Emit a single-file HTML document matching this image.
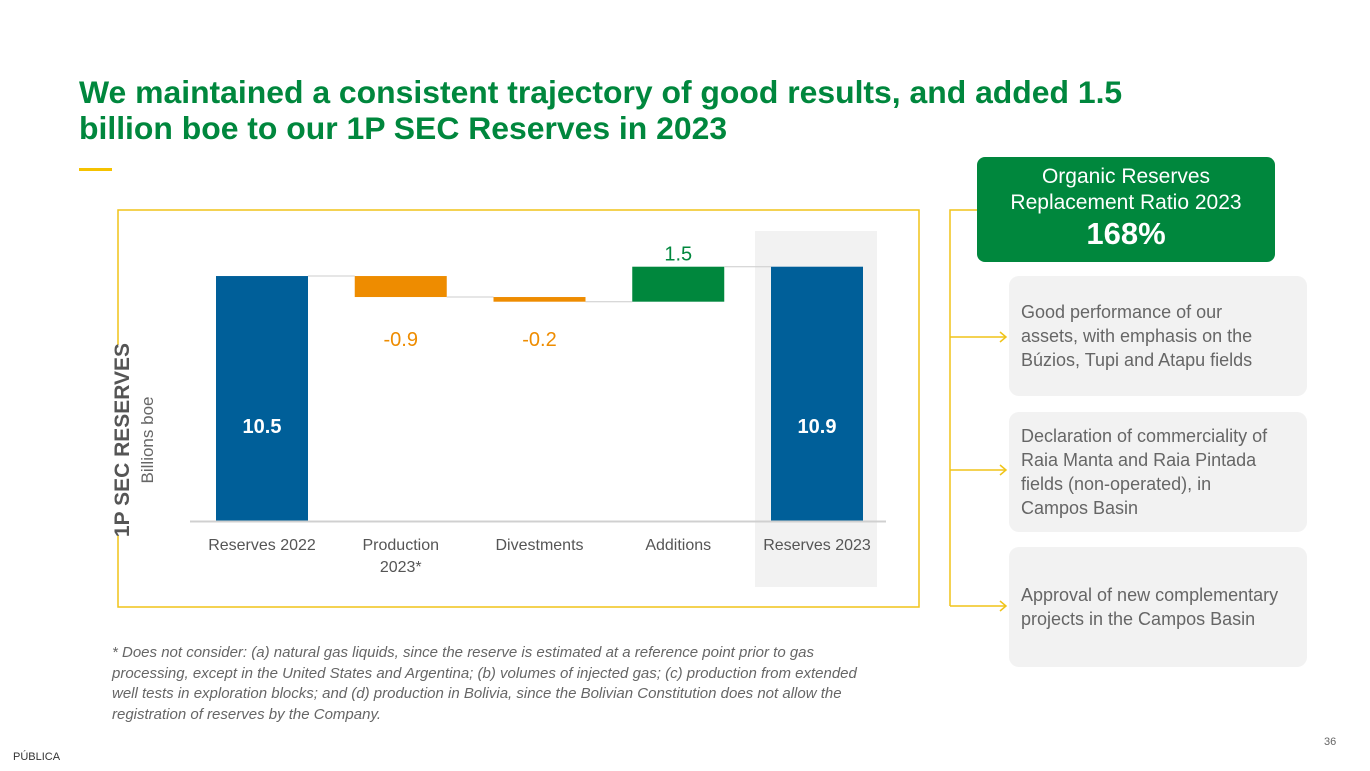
<!DOCTYPE html>
<html><head><meta charset="utf-8"><style>
body{margin:0;width:1370px;height:771px;background:#fff;font-family:"Liberation Sans",sans-serif;position:relative;overflow:hidden}
.abs{position:absolute}
.title{left:79px;top:74px;font-size:31.9px;font-weight:bold;color:#00873d;line-height:36px;letter-spacing:0}
.gbox{left:977px;top:157px;width:298px;height:105px;background:#00873d;border-radius:8px;color:#fff;text-align:center}
.card{left:1009px;width:298px;height:120px;background:#f2f2f2;border-radius:10px;color:#666;font-size:18px;line-height:24px;box-sizing:border-box;padding:0 6px 0 12px;display:flex;align-items:center;white-space:nowrap}
.foot{left:112px;top:643px;font-size:15px;font-style:italic;color:#666;line-height:20.5px;white-space:nowrap}
</style></head><body>
<div class="abs title">We maintained a consistent trajectory of good results, and added 1.5<br>billion boe to our 1P SEC Reserves in 2023</div>
<div class="abs" style="left:79px;top:168px;width:33px;height:3px;background:#f5c200"></div>

<svg class="abs" style="left:0;top:0" width="1370" height="771">
<g id="frame" fill="none" stroke="#f0c419" stroke-width="1.5">
<polyline points="118,345 118,210 919,210 919,607 118,607 118,535"/>
</g>
<rect x="755" y="231" width="122" height="356" fill="#f2f2f2"/>
<g id="bars"></g>
<line x1="190" y1="521.5" x2="886" y2="521.5" stroke="#d0d0d0" stroke-width="2"/>
<g id="labels"></g>
<text transform="translate(129,440) rotate(-90)" text-anchor="middle" font-size="21" font-weight="bold" fill="#555">1P SEC RESERVES</text>
<text transform="translate(153,440) rotate(-90)" text-anchor="middle" font-size="17" fill="#666">Billions boe</text>
<g fill="none" stroke="#f0c419" stroke-width="1.5">
<polyline points="977,210 950,210 950,606"/>
<line x1="950" y1="337" x2="1006" y2="337"/><polyline points="1000,332 1006,337 1000,342"/>
<line x1="950" y1="470" x2="1006" y2="470"/><polyline points="1000,465 1006,470 1000,475"/>
<line x1="950" y1="606" x2="1006" y2="606"/><polyline points="1000,601 1006,606 1000,611"/>
</g>
</svg>

<div class="abs gbox">
<div style="font-size:21px;line-height:26px;margin-top:7px">Organic Reserves<br>Replacement Ratio 2023</div>
<div style="font-size:31px;font-weight:bold;line-height:36px">168%</div></div>
<div class="abs card" style="top:276px">Good performance of our<br>assets, with emphasis on the<br>Búzios, Tupi and Atapu fields</div>
<div class="abs card" style="top:412px">Declaration of commerciality of<br>Raia Manta and Raia Pintada<br>fields (non-operated), in<br>Campos Basin</div>
<div class="abs card" style="top:547px">Approval of new complementary<br>projects in the Campos Basin</div>

<div class="abs foot">* Does not consider: (a) natural gas liquids, since the reserve is estimated at a reference point prior to gas<br>processing, except in the United States and Argentina; (b) volumes of injected gas; (c) production from extended<br>well tests in exploration blocks; and (d) production in Bolivia, since the Bolivian Constitution does not allow the<br>registration of reserves by the Company.</div>
<div class="abs" style="left:13px;top:751px;font-size:11px;color:#333">PÚBLICA</div>
<div class="abs" style="left:1324px;top:736px;font-size:11px;color:#666">36</div>

<script>
const categories=["Reserves 2022","Production\n2023*","Divestments","Additions","Reserves 2023"];
const values=[10.5,-0.9,-0.2,1.5,10.9];
const types=["total","delta","delta","delta","total"];
const valueLabels=["10.5","-0.9","-0.2","1.5","10.9"];
const NS="http://www.w3.org/2000/svg";
const base=521, scale=23.33, x0=216, step=138.75, bw=92;
const y=v=>base-v*scale;
const bars=document.getElementById('bars'), labels=document.getElementById('labels');
let run=0;
categories.forEach((c,i)=>{
  const v=values[i];let top,bot,col;
  if(types[i]==="total"){top=y(v);bot=base;col="#005f99";run=v;}
  else{const s=run,e=run+v;top=y(Math.max(s,e));bot=y(Math.min(s,e));col=v<0?"#ee8c00":"#00873d";run=e;}
  const x=x0+i*step;
  const r=document.createElementNS(NS,'rect');
  r.setAttribute('x',x);r.setAttribute('y',top);r.setAttribute('width',bw);r.setAttribute('height',Math.max(bot-top,1));r.setAttribute('fill',col);
  
  
  bars.appendChild(r);
  if(i<categories.length-1){
    const l=document.createElementNS(NS,'line');
    const ly=y(run);
    l.setAttribute('x1',x+bw);l.setAttribute('x2',x+step);l.setAttribute('y1',ly);l.setAttribute('y2',ly);l.setAttribute('stroke','#ccc');
    
    
    bars.appendChild(l);
  }
  const t=document.createElementNS(NS,'text');
  t.setAttribute('x',x+bw/2);t.setAttribute('text-anchor','middle');
  if(types[i]==="total"){t.setAttribute('y',433);t.setAttribute('fill','#fff');t.setAttribute('font-weight','bold');t.setAttribute('font-size','20');}
  else if(v<0){t.setAttribute('y',346);t.setAttribute('fill','#ee8c00');t.setAttribute('font-size','20');}
  else{t.setAttribute('y',top-6);t.setAttribute('fill','#00873d');t.setAttribute('font-size','20');}
  t.textContent=valueLabels[i];
  
  
  labels.appendChild(t);
  c.split("\n").forEach((ln,k)=>{
    const tt=document.createElementNS(NS,'text');
    tt.setAttribute('x',x+bw/2);tt.setAttribute('y',550+k*22);tt.setAttribute('text-anchor','middle');tt.setAttribute('font-size','16');tt.setAttribute('fill','#555');
    tt.textContent=ln;
    
    
    labels.appendChild(tt);
  });
});
</script>
</body></html>
